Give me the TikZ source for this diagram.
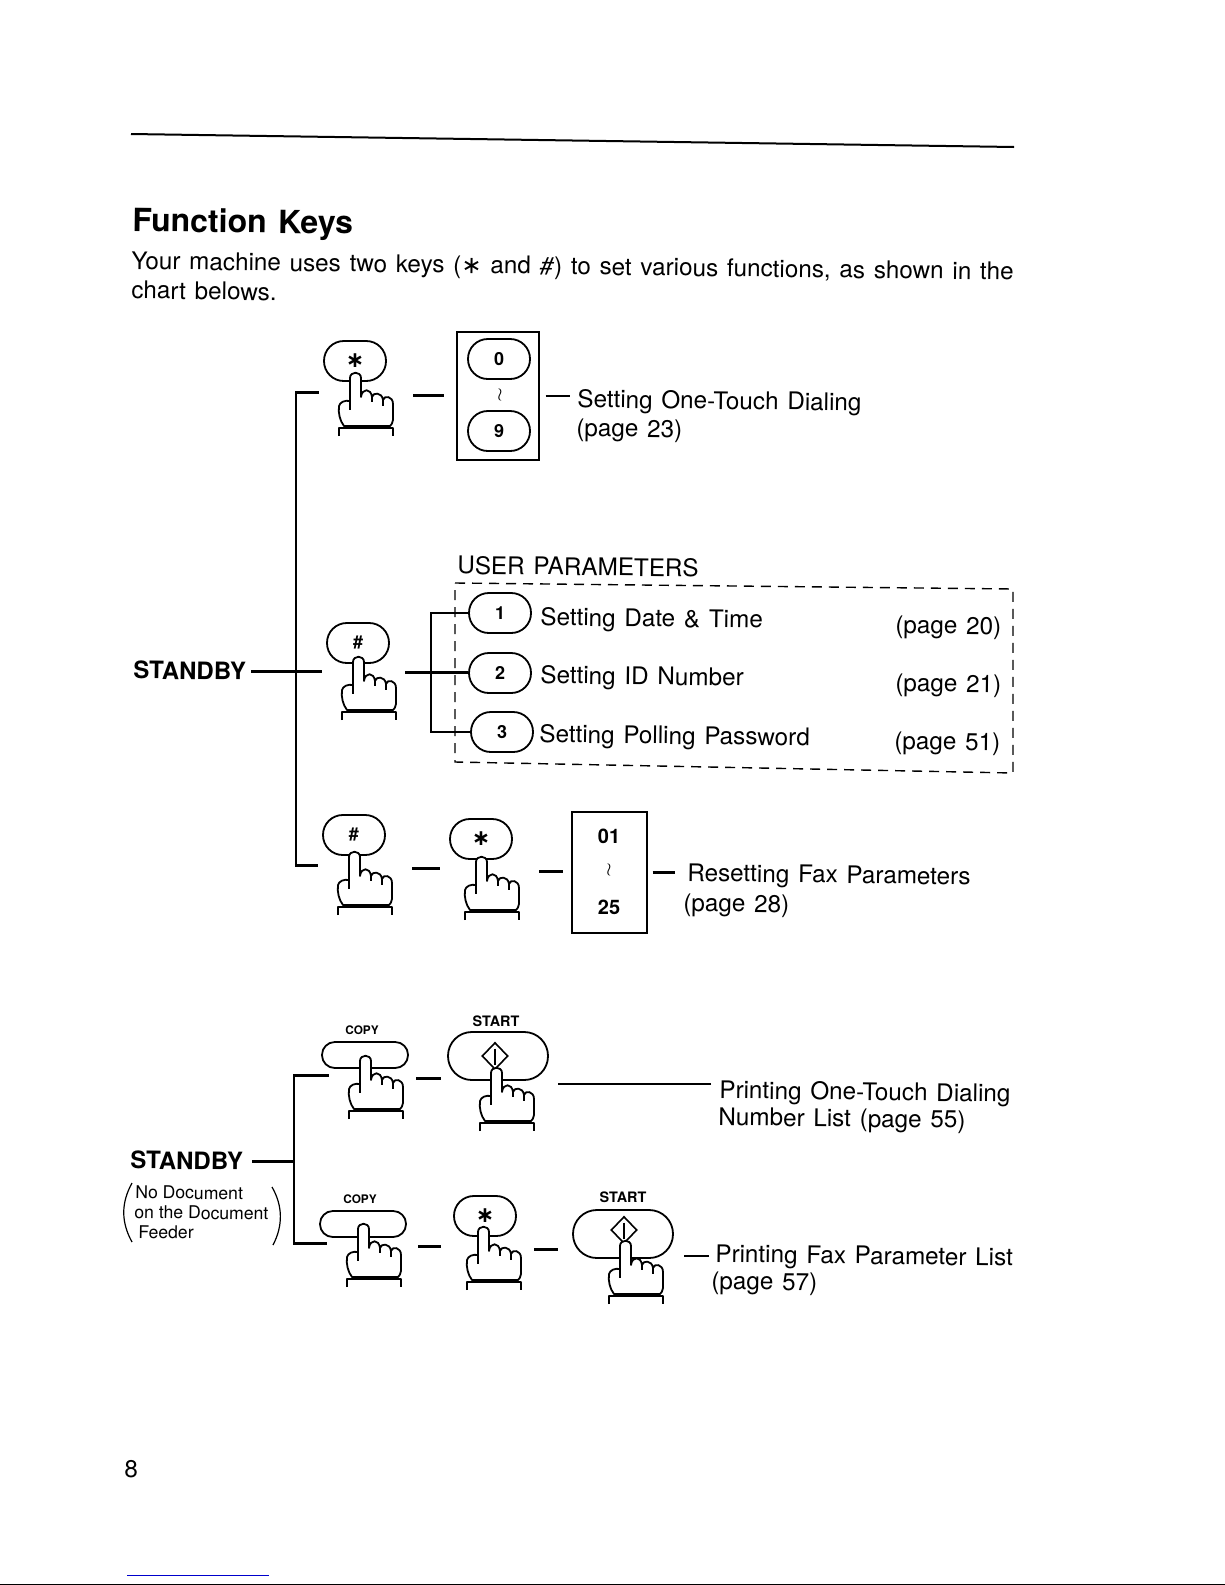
\documentclass[tikz,border=0pt]{standalone}
\usepackage{fontspec}
\setmainfont{TeX Gyre Heros}
\newfontfamily\symfont{DejaVu Sans}
\newcommand{\widewords}{\spaceskip=0.36em\relax}
\usetikzlibrary{positioning, shapes.geometric, calc}

\begin{document}
\begin{tikzpicture}[
    x=0.5pt, y=-0.5pt,
    % ---- Key styles ----
    keycap/.style={
        rectangle,
        draw=black,
        line width=0.9pt,
        fill=white,
        rounded corners=9.9pt,
        minimum width=31pt,
        minimum height=20pt,
        inner sep=0pt,
        font=\fontsize{9}{10}\selectfont\bfseries
    },
    copykey/.style={keycap, rounded corners=6.4pt, minimum width=43pt, minimum height=13pt},
    startkey/.style={keycap, rounded corners=11.9pt, minimum width=50pt, minimum height=24pt},
    startmark/.style={diamond, draw=black, line width=0.8pt, inner sep=0pt,
        minimum width=13pt, minimum height=13.5pt},
    % ---- Frames and texts ----
    framebox/.style={rectangle, draw=black, line width=0.7pt, inner sep=0pt},
    lbl/.style={anchor=west, inner sep=0pt, rotate=-0.7,
        font=\fontsize{12.13}{14}\selectfont\widewords},
    head/.style={lbl, font=\fontsize{16}{18}\selectfont\bfseries\widewords},
    standby/.style={lbl, font=\fontsize{12}{14}\selectfont\bfseries},
    docnote/.style={lbl, rotate=0, font=\fontsize{8.8}{10}\selectfont},
    keyname/.style={inner sep=0pt, font=\fontsize{5.9}{7}\selectfont\bfseries},
    startname/.style={inner sep=0pt, font=\fontsize{7.2}{8}\selectfont\bfseries},
    rangeno/.style={inner sep=0pt, font=\fontsize{10}{12}\selectfont\bfseries},
    upto/.style={inner sep=0pt, font=\fontsize{9}{10}\selectfont},
    % ---- Lines ----
    rel/.style={line width=1.3pt, black},
    handline/.style={line width=0.9pt, black, line join=round},
    handbox/.style={rectangle, minimum width=47pt, minimum height=22pt, inner sep=0pt, rotate=-2},
    % ---- Pressing hand, fingertip at the origin ----
    hand/.pic={
        \draw[handline, fill=white] (-5,28) -- (-5,5)
            .. controls (-5,-2) and (6,-2) .. (6,5) -- (6,24)
            .. controls (7,15) and (16,15) .. (17,24)
            .. controls (18,19) and (27,19) .. (28,27)
            .. controls (29,22) and (38,23) .. (38,31) -- (38,47)
            .. controls (38,50) and (36,52) .. (35,53) -- (-11,53)
            .. controls (-15,48) and (-17,40) .. (-16,33)
            .. controls (-15,29) and (-10,27) .. (-5,28) -- cycle;
        \draw[handline] (-5,28) -- (-5,37) (17,24) -- (17,29) (28,27) -- (28,33);
        \draw[handline] (-16,63) -- (-16,55) -- (38,55) -- (38,63);
    }
]

% ---- Hand macro: name, fingertip x, fingertip y, line y ----
\newcommand{\presshand}[4]{
    \node[handbox] (#1) at (#2+11,#4) {};
    \pic at (#2,#3) {hand};
}
\newcommand{\stargl}{{\symfont\fontsize{11}{11}\selectfont\bfseries ∗}}

\useasboundingbox (0,0) rectangle (1225,1585);

% ---------- PAGE HEADER ----------
\coordinate (RuleL) at (131,134);
\coordinate (RuleR) at (1014,147);
\draw[line width=1pt] (RuleL) -- (RuleR);

\node[head] (Title) at (132,223) {Function Keys};
\node[lbl] (BodyA) at (131,263) {Your machine uses two keys ({\symfont ∗} and \textit{\#}) to set various functions, as shown in the};
\node[lbl] (BodyB) at (131,290) {chart belows.};

% ---------- ROW 1: one-touch dialing ----------
\node[keycap] (KeyStarA) at (355,361) {\stargl};
\node[framebox, minimum width=41pt, minimum height=64pt] (BoxA) at (498,396) {};
\node[keycap] (KeyZero) at (499,359) {0};
\node[upto] (UptoA) at (500,395) {$\wr$};
\node[keycap] (KeyNine) at (499,431) {9};
\presshand{HandA}{355}{373}{394}
\node[lbl] (LabA) at (577,401) {Setting One-Touch Dialing};
\node[lbl] (LabAb) at (576,430) {(page 23)};

% ---------- ROW 2: user parameters ----------
\node[standby] (StandbyA) at (133,670) {STANDBY};
\node[keycap] (KeyHashA) at (358,643) {\#};
\presshand{HandB}{358}{657}{671}
\node[lbl] (LabUser) at (457,565) {USER PARAMETERS};
\node[keycap] (KeyOne) at (500,613) {1};
\node[keycap] (KeyTwo) at (500,673) {2};
\node[keycap] (KeyThree) at (502,732) {3};
\node[lbl] (LabOne) at (540,619) {Setting Date \& Time};
\node[lbl] (LabTwo) at (540,677) {Setting ID Number};
\node[lbl] (LabThree) at (539,736) {Setting Polling Password};
\node[lbl] (PageOne) at (895,627) {(page 20)};
\node[lbl] (PageTwo) at (895,685) {(page 21)};
\node[lbl] (PageThree) at (894,743) {(page 51)};
\draw[line width=0.7pt, dash pattern=on 5pt off 3.5pt]
    (455,583) -- (1013,589) -- (1013,773) -- (455,762) -- cycle;

% ---------- ROW 3: resetting parameters ----------
\node[keycap] (KeyHashB) at (354,835) {\#};
\node[keycap] (KeyStarB) at (481,839) {\stargl};
\presshand{HandC}{354}{852}{867}
\presshand{HandD}{481}{857}{870}
\node[framebox, minimum width=37.5pt, minimum height=60.5pt] (BoxC) at (609.5,872.5) {};
\node[rangeno] (NumFirst) at (609,836) {01};
\node[upto] (UptoC) at (609,870) {$\wr$};
\node[rangeno] (NumLast) at (609,907) {25};
\node[lbl] (LabC) at (687,875) {Resetting Fax Parameters};
\node[lbl] (LabCb) at (683,905) {(page 28)};

% ---------- ROW 4: one-touch dialing list ----------
\node[keyname] (NameCopyA) at (362,1030) {COPY};
\node[startname] (NameStartA) at (496,1021) {START};
\node[copykey] (KeyCopyA) at (365,1055) {};
\node[startkey] (KeyStartA) at (498,1056) {};
\node[startmark] (MarkA) at (495,1056) {};
\draw[line width=1.2pt] (MarkA.north) ++(0,7) -- ++(0,16);
\presshand{HandE}{365}{1056}{1077}
\presshand{HandF}{496}{1068}{1090}
\node[lbl] (LabE) at (719,1092) {Printing One-Touch Dialing};
\node[lbl] (LabEb) at (718,1119) {Number List (page 55)};

% ---------- ROW 5: fax parameter list ----------
\node[standby] (StandbyB) at (130,1160) {STANDBY};
\node[docnote] (NoteA) at (135,1192) {No Document};
\node[docnote] (NoteB) at (134,1212) {on the Document};
\node[docnote] (NoteC) at (138,1232) {Feeder};
\draw[line width=0.6pt] (132,1183) .. controls (121,1203) and (121,1222) .. (132,1242);
\draw[line width=0.6pt] (272,1187) .. controls (283,1206) and (283,1226) .. (273,1245);
\node[keyname] (NameCopyB) at (360,1199) {COPY};
\node[startname] (NameStartB) at (623,1197) {START};
\node[copykey] (KeyCopyB) at (363,1224) {};
\node[keycap] (KeyStarC) at (485,1216) {\stargl};
\node[startkey] (KeyStartB) at (623,1234) {};
\node[startmark] (MarkB) at (624,1230) {};
\draw[line width=1.2pt] (MarkB.north) ++(0,7) -- ++(0,16);
\presshand{HandG}{363}{1224}{1245}
\presshand{HandH}{483}{1227}{1248}
\presshand{HandI}{625}{1241}{1263}
\node[lbl] (LabG) at (715,1256) {Printing Fax Parameter List};
\node[lbl] (LabGb) at (711,1283) {(page 57)};

% ---------- CONNECTORS ----------
% standby -- first three rows
\coordinate (BusA) at (296,671);
\draw[rel, shorten <=2.5pt] (StandbyA.east) -- (StandbyA.east -| HandB.west);
\draw[rel] (HandA.west) -| (BusA) |- (HandC.west);

% row 1
\draw[rel, shorten >=6pt] (HandA.east) -- (HandA.east -| BoxA.west);
\draw[rel, shorten <=3pt, shorten >=3.5pt] (BoxA.east) -- (BoxA.east -| LabA.west);

% row 2
\coordinate (BusB) at (431,672);
\draw[rel, shorten <=-5.5pt] (HandB.east) -- (HandB.east -| KeyTwo.west);
\draw[rel] (KeyOne.west) -| (BusB) |- (KeyThree.west);

% row 3
\draw[rel, shorten >=2.5pt] (HandC.east) -- (HandC.east -| HandD.west);
\draw[rel, shorten >=4pt] (HandD.east) -- (HandD.east -| BoxC.west);
\draw[rel, shorten <=2.5pt, shorten >=6pt] (BoxC.east) -- (BoxC.east -| LabC.west);

% standby -- last two rows
\coordinate (BusC) at (294,1163);
\draw[rel, shorten <=4.5pt] (StandbyB.east) -- (StandbyB.east -| BusC);
\draw[rel] (HandE.west) -| (BusC) |- (HandG.west);

% row 4
\coordinate (LineE) at ($(LabE.north west)+(0,4)$);
\draw[rel, shorten <=-3.5pt, shorten >=3pt] (HandE.east) -- (HandE.east -| KeyStartA.west);
\draw[rel, shorten <=4pt, shorten >=4.5pt] (LineE) -- (LineE -| KeyStartA.east);

% row 5
\draw[rel, shorten <=-1.5pt, shorten >=6pt] (HandG.east) -- (HandG.east -| KeyStarC.west);
\draw[rel, shorten <=-3.5pt, shorten >=7pt] (HandH.east) -- (HandH.east -| KeyStartB.west);
\draw[rel, shorten <=3pt, shorten >=5pt] (LabG.west) -- (LabG.west -| KeyStartB.east);

% ---------- PAGE FOOT ----------
\node[lbl, rotate=0] (PageNo) at (124,1469) {8};
\coordinate (LinkL) at (127,1575);
\coordinate (LinkR) at (269,1575);
\draw[line width=0.5pt, blue!80!black] (LinkL) -- (LinkR);
\coordinate (EdgeL) at (0,1584);
\coordinate (EdgeR) at (1225,1584);
\draw[line width=0.5pt] (EdgeL) -- (EdgeR);

\end{tikzpicture}
\end{document}
